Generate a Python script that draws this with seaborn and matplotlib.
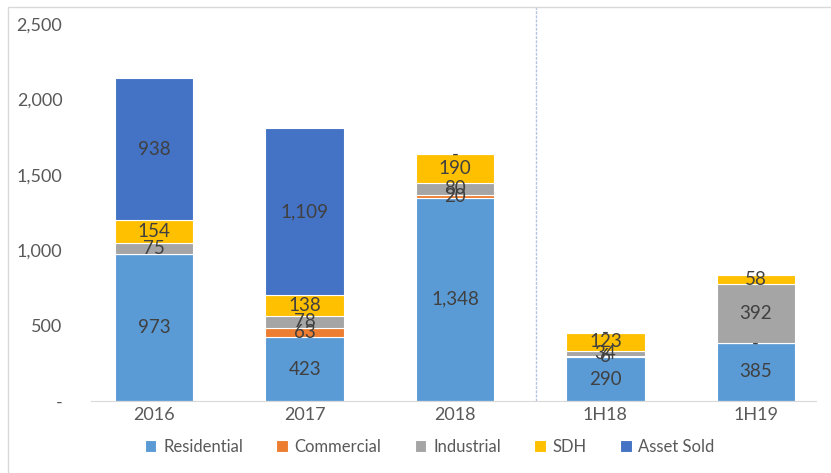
import matplotlib
matplotlib.use("Agg")
import matplotlib.pyplot as plt
from matplotlib.patches import Rectangle
import seaborn as sns
import numpy as np

periods = ["2016", "2017", "2018", "1H18", "1H19"]
residential = [973, 423, 1348, 290, 385]
commercial = [None, 63, 20, 6, 0]
industrial = [75, 78, 80, 34, 392]
sdh = [154, 138, 190, 123, 58]
asset_sold = [938, 1109, 0, 0, None]

series = [
    ("Residential", residential, "#5B9BD5"),
    ("Commercial", commercial, "#ED7D31"),
    ("Industrial", industrial, "#A5A5A5"),
    ("SDH", sdh, "#FFC000"),
    ("Asset Sold", asset_sold, "#4472C4"),
]

sns.set_style("white")
plt.rcParams["font.family"] = ["Lato", "DejaVu Sans"]

fig = plt.figure(figsize=(8.31, 4.73), dpi=100)
ax = fig.add_axes([79 / 831, (473 - 401) / 473, (831 - 79) / 831, (401 - 24) / 473])

bottom = np.zeros(len(periods))
for name, vals, color in series:
    v = np.array([np.nan if x is None else x for x in vals], dtype=float)
    h = np.nan_to_num(v)
    sns.barplot(x=periods, y=h, bottom=bottom, color=color, width=0.52, saturation=1,
                label=name, edgecolor="white", linewidth=0.8, ax=ax)
    cont = ax.containers[-1]
    labels = ["" if np.isnan(x) else ("-" if x == 0 else f"{x:,.0f}") for x in v]
    ax.bar_label(cont, labels=labels, label_type="center", fontsize=13.5, color="#404040")
    bottom = bottom + h

ax.set_xlim(-0.5, 4.5)
ax.set_ylim(0, 2500)
ax.set_yticks([0, 500, 1000, 1500, 2000, 2500])
ax.set_yticklabels(["-", "500", "1,000", "1,500", "2,000", "2,500"])
ax.tick_params(axis="y", length=0, pad=12, labelsize=13, labelcolor="#595959")
ax.tick_params(axis="x", length=0, pad=4, labelsize=13, labelcolor="#595959")
ax.set_xlabel("")
ax.set_ylabel("")
for s in ["top", "right", "left"]:
    ax.spines[s].set_visible(False)
ax.spines["bottom"].set_color("#d9d9d9")
ax.spines["bottom"].set_bounds(-0.42, 4.4)
ax.axvline(2.54, ymin=0, ymax=(401 - 7) / (401 - 24), color="#b4c3e0",
           linestyle=(0, (2, 1)), linewidth=1, clip_on=False)

handles, labs = ax.get_legend_handles_labels()
fig.legend(handles, labs, loc="center", bbox_to_anchor=(0.517, 0.055), ncol=5,
           frameon=False, fontsize=12, handlelength=0.7, handleheight=0.7,
           columnspacing=2.0, handletextpad=0.4, labelcolor="#595959")
ax.legend_ = None

fig.patches.append(Rectangle((8 / 831, -0.01), 1, (473 - 7) / 473 + 0.01,
                             transform=fig.transFigure, fill=False,
                             edgecolor="#d9d9d9", linewidth=1))

fig.savefig("out.png", dpi=100)
